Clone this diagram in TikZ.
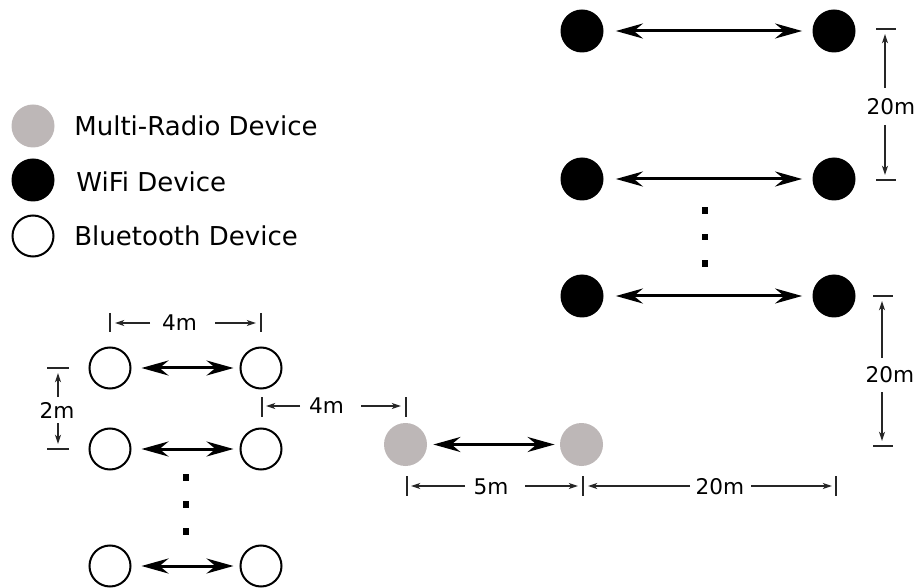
\documentclass[tikz,border=0pt]{standalone}
\usepackage{fontspec}
\setmainfont{DejaVu Sans}
\usetikzlibrary{arrows.meta}
\definecolor{mrgray}{RGB}{189,183,183}
\begin{document}
\begin{tikzpicture}[x=0.5pt,y=-0.5pt,
  dev/.style={circle,minimum size=21.5pt,inner sep=0pt},
  btdev/.style={circle,draw=black,line width=1pt,minimum size=20.5pt,inner sep=0pt},
  wifidev/.style={dev,fill=black},
  mrdev/.style={dev,fill=mrgray},
  link/.style={line width=1.5pt,{Stealth[length=13.5pt,width=7.5pt,inset=4.5pt]}-{Stealth[length=13.5pt,width=7.5pt,inset=4.5pt]}},
  dimarrow/.style={line width=0.55pt,draw=black!85,-{Stealth[length=4.6pt,width=3pt,inset=1.2pt]}},
  tickline/.style={line width=0.6pt,draw=black!85},
  dimlbl/.style={font=\fontsize{10.8pt}{12pt}\selectfont,inner sep=0pt,anchor=base},
  leglbl/.style={font=\fontsize{13pt}{15pt}\selectfont,inner sep=0pt,anchor=base west},
  dotmark/.style={rectangle,fill=black,minimum size=3.3pt,inner sep=0pt}]
\useasboundingbox (0,0) rectangle (916,588);

% legend
\node[mrdev] (legmr) at (33,126) {};
\node[wifidev] (legwifi) at (33,180) {};
\node[btdev] (legbt) at (33,236) {};
\node[leglbl] (legmrt) at (74,136) {Multi-Radio Device};
\node[leglbl] (legwifit) at (76,192) {WiFi Device};
\node[leglbl] (legbtt) at (74,246) {Bluetooth Device};

% bluetooth devices
\node[btdev] (b11) at (110,368) {};
\node[btdev] (b12) at (261,368) {};
\node[btdev] (b21) at (110,449) {};
\node[btdev] (b22) at (261,449) {};
\node[btdev] (b31) at (110,566) {};
\node[btdev] (b32) at (261,566) {};
\draw[link,shorten <=5pt,shorten >=3pt] (b11) -- (b12);
\draw[link,shorten <=5pt,shorten >=3pt] (b21) -- (b22);
\draw[link,shorten <=5pt,shorten >=3pt] (b31) -- (b32);
\node[dotmark] (bd1) at (186,477.5) {};
\node[dotmark] (bd2) at (186,504.5) {};
\node[dotmark] (bd3) at (186,531.5) {};

% multi-radio devices
\node[mrdev] (m1) at (405.5,444.5) {};
\node[mrdev] (m2) at (581.5,444.5) {};
\draw[link,shorten <=3pt,shorten >=2.5pt] (m1) -- (m2);

% wifi devices
\node[wifidev] (w11) at (582,31) {};
\node[wifidev] (w12) at (834,31) {};
\node[wifidev] (w21) at (582,179) {};
\node[wifidev] (w22) at (834,179) {};
\node[wifidev] (w31) at (582,296) {};
\node[wifidev] (w32) at (834,296) {};
\draw[link,shorten <=6pt,shorten >=5pt] (w11) -- (w12);
\draw[link,shorten <=6pt,shorten >=5pt] (w21) -- (w22);
\draw[link,shorten <=6pt,shorten >=5pt] (w31) -- (w32);
\node[dotmark] (wd1) at (705,210.5) {};
\node[dotmark] (wd2) at (705,237) {};
\node[dotmark] (wd3) at (705,263.5) {};

% dimension: 4m (top, bluetooth)
\coordinate (d1ta) at (110,313); \coordinate (d1tb) at (110,332);
\coordinate (d1ua) at (261,313); \coordinate (d1ub) at (261,332);
\draw[tickline] (d1ta) -- (d1tb);
\draw[tickline] (d1ua) -- (d1ub);
\node[dimlbl] (d1l) at (179.5,331) {4m};
\coordinate (d1s1) at (150,323); \coordinate (d1e1) at (115,323);
\coordinate (d1s2) at (215,323); \coordinate (d1e2) at (256,323);
\draw[dimarrow] (d1s1) -- (d1e1);
\draw[dimarrow] (d1s2) -- (d1e2);

% dimension: 2m
\coordinate (d2ta) at (47,368); \coordinate (d2tb) at (69,368);
\coordinate (d2ua) at (47,449); \coordinate (d2ub) at (69,449);
\draw[tickline] (d2ta) -- (d2tb);
\draw[tickline] (d2ua) -- (d2ub);
\node[dimlbl] (d2l) at (57,418) {2m};
\coordinate (d2s1) at (58,397); \coordinate (d2e1) at (58,373);
\coordinate (d2s2) at (58,423); \coordinate (d2e2) at (58,444);
\draw[dimarrow] (d2s1) -- (d2e1);
\draw[dimarrow] (d2s2) -- (d2e2);

% dimension: 4m (bluetooth to multi-radio)
\coordinate (d3ta) at (262,397); \coordinate (d3tb) at (262,417);
\coordinate (d3ua) at (406,397); \coordinate (d3ub) at (406,417);
\draw[tickline] (d3ta) -- (d3tb);
\draw[tickline] (d3ua) -- (d3ub);
\node[dimlbl] (d3l) at (326.5,414) {4m};
\coordinate (d3s1) at (300,406); \coordinate (d3e1) at (266,406);
\coordinate (d3s2) at (361,406); \coordinate (d3e2) at (401,406);
\draw[dimarrow] (d3s1) -- (d3e1);
\draw[dimarrow] (d3s2) -- (d3e2);

% dimension: 5m and 20m (bottom)
\coordinate (d4ta) at (407,476); \coordinate (d4tb) at (407,496);
\coordinate (d4ua) at (583,476); \coordinate (d4ub) at (583,496);
\coordinate (d4va) at (836,476); \coordinate (d4vb) at (836,496);
\draw[tickline] (d4ta) -- (d4tb);
\draw[tickline] (d4ua) -- (d4ub);
\draw[tickline] (d4va) -- (d4vb);
\node[dimlbl] (d4l) at (491,494) {5m};
\coordinate (d4s1) at (465,486); \coordinate (d4e1) at (411,486);
\coordinate (d4s2) at (525,486); \coordinate (d4e2) at (578,486);
\draw[dimarrow] (d4s1) -- (d4e1);
\draw[dimarrow] (d4s2) -- (d4e2);
\node[dimlbl] (d5l) at (720,494) {20m};
\coordinate (d5s1) at (690,486); \coordinate (d5e1) at (588,486);
\coordinate (d5s2) at (751,486); \coordinate (d5e2) at (832,486);
\draw[dimarrow] (d5s1) -- (d5e1);
\draw[dimarrow] (d5s2) -- (d5e2);

% dimension: 20m (top right)
\coordinate (d6ta) at (876,29); \coordinate (d6tb) at (896,29);
\coordinate (d6ua) at (876,180); \coordinate (d6ub) at (896,180);
\draw[tickline] (d6ta) -- (d6tb);
\draw[tickline] (d6ua) -- (d6ub);
\node[dimlbl] (d6l) at (891,115) {20m};
\coordinate (d6s1) at (885,88); \coordinate (d6e1) at (885,34);
\coordinate (d6s2) at (885,125); \coordinate (d6e2) at (885,175);
\draw[dimarrow] (d6s1) -- (d6e1);
\draw[dimarrow] (d6s2) -- (d6e2);

% dimension: 20m (lower right)
\coordinate (d7ta) at (873,296); \coordinate (d7tb) at (893,296);
\coordinate (d7ua) at (873,446); \coordinate (d7ub) at (893,446);
\draw[tickline] (d7ta) -- (d7tb);
\draw[tickline] (d7ua) -- (d7ub);
\node[dimlbl] (d7l) at (890,382) {20m};
\coordinate (d7s1) at (882,358); \coordinate (d7e1) at (882,301);
\coordinate (d7s2) at (882,392); \coordinate (d7e2) at (882,441);
\draw[dimarrow] (d7s1) -- (d7e1);
\draw[dimarrow] (d7s2) -- (d7e2);
\end{tikzpicture}
\end{document}
